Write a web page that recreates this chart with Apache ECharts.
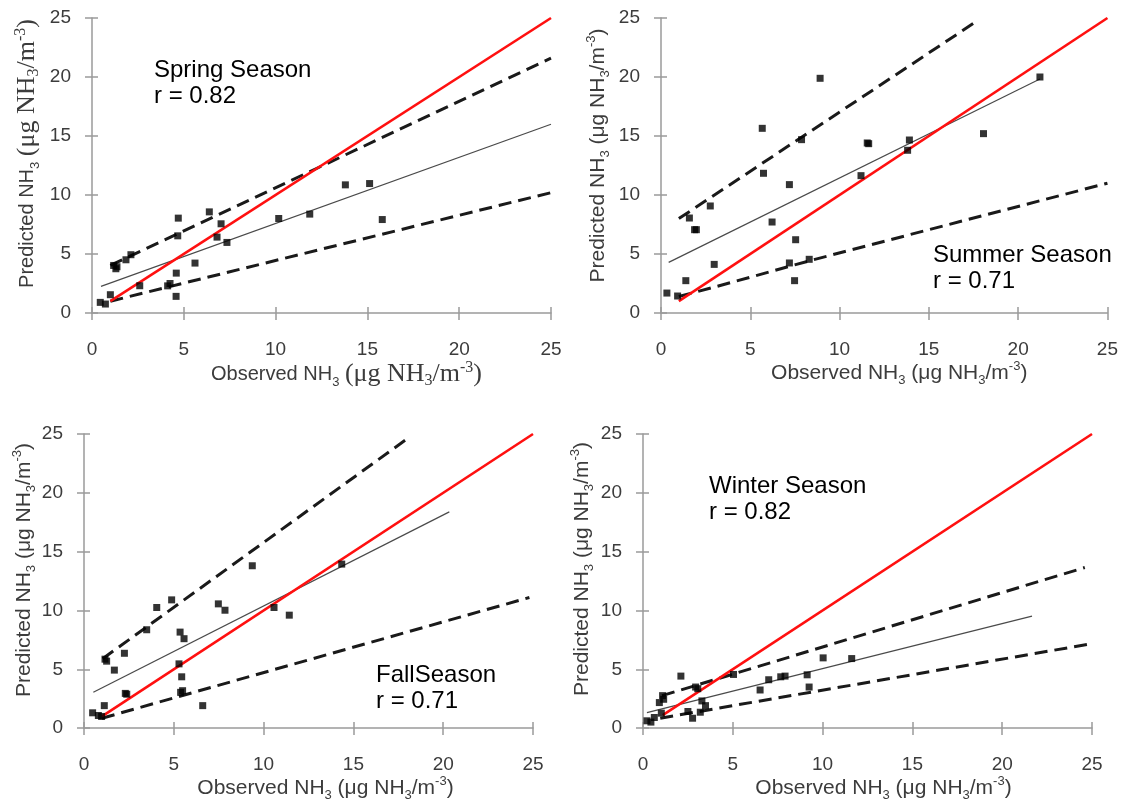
<!DOCTYPE html>
<html>
<head>
<meta charset="utf-8">
<script src="https://cdn.jsdelivr.net/npm/echarts@6/dist/echarts.min.js"></script>
<style>
  html, body { margin: 0; padding: 0; background: #fff; }
  #chart { width: 1121px; height: 803px; }
</style>
</head>
<body>
<div id="chart"></div>
<script>
// values (observed, predicted) in ug/m3
const seasonNames = ['Spring Season', 'Summer Season', 'FallSeason', 'Winter Season'];
const rValues = ['0.82', '0.71', '0.71', '0.82'];
const axisMin = 0;
const axisMax = 25;
const axisStep = 5;

const springPoints = [[0.45, 0.90], [0.73, 0.76], [1.0, 1.55], [1.18, 4.03], [1.3, 3.75], [1.36, 3.92],
  [1.85, 4.51], [2.12, 4.94], [2.6, 2.31], [4.12, 2.3], [4.25, 2.5], [4.59, 3.38], [4.58, 1.41],
  [4.7, 8.04], [4.67, 6.54], [5.61, 4.23], [6.39, 8.57], [6.81, 6.43], [7.03, 7.56], [7.35, 5.98],
  [10.17, 8.01], [11.86, 8.38], [13.8, 10.86], [15.12, 10.97], [15.81, 7.92]];
const springFit = [[0.49, 2.26], [25, 16.0]];
const springUpper = [[1, 4.03], [25, 21.6]];
const springLower = [[1, 1.0], [25, 10.2]];
const springOneToOne = [[1, 1], [25, 25]];

const summerPoints = [[0.33, 1.69], [0.93, 1.44], [1.39, 2.74], [1.59, 8.05], [1.88, 7.06], [1.98, 7.06],
  [2.76, 9.07], [2.98, 4.12], [5.67, 15.65], [5.74, 11.84], [6.22, 7.71], [7.19, 10.88], [7.19, 4.24],
  [7.48, 2.74], [7.54, 6.21], [7.87, 14.69], [8.3, 4.55], [8.91, 19.89], [11.2, 11.64], [11.55, 14.41],
  [11.63, 14.35], [13.81, 13.79], [13.91, 14.66], [18.06, 15.2], [21.22, 20.0]];
const summerFit = [[0.43, 4.29], [21.22, 19.83]];
const summerUpper = [[1, 8.0], [17.75, 24.8]];
const summerLower = [[1, 1.4], [3, 2.2], [8.5, 4.5], [25, 11.0]];
const summerOneToOne = [[1, 1], [25, 25]];

const fallPoints = [[0.48, 1.30], [0.80, 1.07], [0.98, 0.99], [1.13, 1.91], [1.17, 5.86], [1.26, 5.69],
  [1.69, 4.93], [2.25, 6.36], [2.3, 2.95], [2.38, 2.88], [3.49, 8.36], [4.05, 10.25], [4.88, 10.9],
  [5.29, 5.46], [5.35, 8.16], [5.44, 4.36], [5.38, 3.04], [5.49, 3.18], [5.57, 7.6], [6.61, 1.91],
  [7.48, 10.56], [7.85, 10.02], [9.37, 13.8], [10.58, 10.25], [11.43, 9.6], [14.35, 13.94]];
const fallFit = [[0.52, 3.04], [20.34, 18.38]];
const fallUpper = [[1.04, 5.9], [18, 24.6]];
const fallLower = [[1, 0.84], [24.8, 11.1]];
const fallOneToOne = [[1, 1], [25, 25]];

const winterPoints = [[0.22, 0.62], [0.44, 0.51], [0.63, 0.90], [0.91, 2.17], [1.09, 2.76], [1.15, 2.45],
  [1.02, 1.27], [2.11, 4.42], [2.5, 1.41], [2.76, 0.84], [2.93, 3.49], [3.05, 3.35], [3.19, 1.35],
  [3.28, 2.31], [3.48, 1.91], [5.04, 4.56], [6.52, 3.24], [7.0, 4.11], [7.67, 4.36], [7.91, 4.42],
  [9.14, 4.53], [9.25, 3.49], [10.03, 5.97], [11.62, 5.91]];
const winterFit = [[0.22, 1.32], [21.66, 9.52]];
const winterUpper = [[1.06, 2.76], [24.6, 13.65]];
const winterLower = [[0.96, 0.84], [25, 7.18]];
const winterOneToOne = [[1.1, 1.1], [25, 25]];

const panelData = [
  { points: springPoints, fit: springFit, upper: springUpper, lower: springLower, oneToOne: springOneToOne },
  { points: summerPoints, fit: summerFit, upper: summerUpper, lower: summerLower, oneToOne: summerOneToOne },
  { points: fallPoints, fit: fallFit, upper: fallUpper, lower: fallLower, oneToOne: fallOneToOne },
  { points: winterPoints, fit: winterFit, upper: winterUpper, lower: winterLower, oneToOne: winterOneToOne }
];

// layout of each panel (pixels)
const layout = [
  { grid: { left: 92, top: 18, width: 459, height: 295 }, label: { left: 154, top: 58 }, serif: true,
    xShift: 25, yShift: 12, yGap: 50 },
  { grid: { left: 661, top: 18, width: 450, height: 295 }, label: { left: 933, top: 243 }, serif: false,
    xShift: 15, yShift: 10, yGap: 49 },
  { grid: { left: 84, top: 434, width: 449, height: 296 }, label: { left: 376, top: 663 }, serif: false,
    xShift: 17, yShift: 11, yGap: 45 },
  { grid: { left: 643, top: 434, width: 449, height: 296 }, label: { left: 709, top: 474 }, serif: false,
    xShift: 16, yShift: 12, yGap: 47 }
];

const sans = '"Liberation Sans", Arial, sans-serif';
const serif = '"Liberation Serif", "Times New Roman", serif';
const axisGray = '#9a9a9a';
const labelGray = '#3c3c3c';

// rich styles: main text centred in the line, subscripts sit on the bottom, superscripts on top
function richStyles(lineH, mainSize) {
  return {
    t: { fontFamily: sans, fontSize: mainSize, color: labelGray, lineHeight: lineH, verticalAlign: 'middle' },
    s: { fontFamily: sans, fontSize: 13, color: labelGray, lineHeight: lineH, verticalAlign: 'bottom' },
    p: { fontFamily: sans, fontSize: 13, color: labelGray, lineHeight: lineH, verticalAlign: 'top' },
    r: { fontFamily: serif, fontSize: 26, color: labelGray, lineHeight: lineH, verticalAlign: 'middle' },
    rs: { fontFamily: serif, fontSize: 16, color: labelGray, lineHeight: lineH, verticalAlign: 'bottom' },
    rp: { fontFamily: serif, fontSize: 16, color: labelGray, lineHeight: lineH, verticalAlign: 'top' }
  };
}

function axisName(prefix, useSerif) {
  if (useSerif) {
    return '{t|' + prefix + ' NH}{s|3}{t| }{r|(μg NH}{rs|3}{r|/m}{rp|-3}{r|)}';
  }
  return '{t|' + prefix + ' NH}{s|3}{t| (μg NH}{s|3}{t|/m}{p|-3}{t|)}';
}

const grids = [], xAxes = [], yAxes = [], series = [], titles = [];

layout.forEach(function (L, i) {
  grids.push(L.grid);
  const lineStyle = { color: axisGray, width: 1.5 };
  const base = { gridIndex: i, type: 'value', min: axisMin, max: axisMax, interval: axisStep,
    splitLine: { show: false } };
  const rich = L.serif ? richStyles(29, 20) : richStyles(27, 21);

  // main axes with labels, ticks pointing out
  xAxes.push(Object.assign({}, base, {
    position: 'bottom',
    axisLine: { show: true, onZero: false, lineStyle: lineStyle },
    axisTick: { show: true, inside: false, length: 7, lineStyle: lineStyle },
    axisLabel: { margin: 27, fontSize: 19, color: labelGray, fontFamily: sans },
    name: axisName('Observed', L.serif),
    nameLocation: 'middle',
    nameGap: L.serif ? 44 : 46,
    nameTextStyle: { rich: rich, padding: [0, 0, 0, L.xShift * 2] }
  }));
  yAxes.push(Object.assign({}, base, {
    position: 'left',
    axisLine: { show: true, onZero: false, lineStyle: lineStyle },
    axisTick: { show: true, inside: false, length: 7, lineStyle: lineStyle },
    axisLabel: { margin: 21, fontSize: 19, color: labelGray, fontFamily: sans },
    name: axisName('Predicted', L.serif),
    nameLocation: 'middle',
    nameGap: L.yGap,
    nameTextStyle: { rich: rich, padding: [0, 0, 0, L.yShift * 2] }
  }));
  // twin axes: inner half of the crossing tick marks
  xAxes.push(Object.assign({}, base, {
    position: 'bottom',
    axisLine: { show: false },
    axisTick: { show: true, inside: true, length: 6, lineStyle: lineStyle },
    axisLabel: { show: false }
  }));
  yAxes.push(Object.assign({}, base, {
    position: 'left',
    axisLine: { show: false },
    axisTick: { show: true, inside: true, length: 6, lineStyle: lineStyle },
    axisLabel: { show: false }
  }));

  const d = panelData[i];
  const ax = { xAxisIndex: i * 2, yAxisIndex: i * 2 };
  const lineBase = Object.assign({ type: 'line', showSymbol: false, silent: true, animation: false }, ax);

  series.push(Object.assign({}, lineBase, {
    data: d.fit, z: 2,
    lineStyle: { color: '#4a4a4a', width: 1.2 }
  }));
  series.push(Object.assign({}, lineBase, {
    data: d.upper, z: 3,
    lineStyle: { color: '#1a1a1a', width: 3, type: [13, 7] }
  }));
  series.push(Object.assign({}, lineBase, {
    data: d.lower, z: 3,
    lineStyle: { color: '#1a1a1a', width: 3, type: [13, 7] }
  }));
  series.push(Object.assign({}, lineBase, {
    data: d.oneToOne, z: 4,
    lineStyle: { color: '#ff1010', width: 2.6 }
  }));
  series.push(Object.assign({ type: 'scatter', symbol: 'rect', symbolSize: 7, animation: false, z: 5,
    itemStyle: { color: '#000' }, data: d.points }, ax));

  titles.push({
    text: seasonNames[i] + '\nr = ' + rValues[i],
    left: L.label.left,
    top: L.label.top - 1,
    padding: 0,
    textStyle: { fontFamily: sans, fontSize: 24, fontWeight: 'normal', color: '#000', lineHeight: 26 }
  });
});

const chart = echarts.init(document.getElementById('chart'));
chart.setOption({
  backgroundColor: '#fff',
  animation: false,
  title: titles,
  grid: grids,
  xAxis: xAxes,
  yAxis: yAxes,
  series: series
});
</script>
</body>
</html>
